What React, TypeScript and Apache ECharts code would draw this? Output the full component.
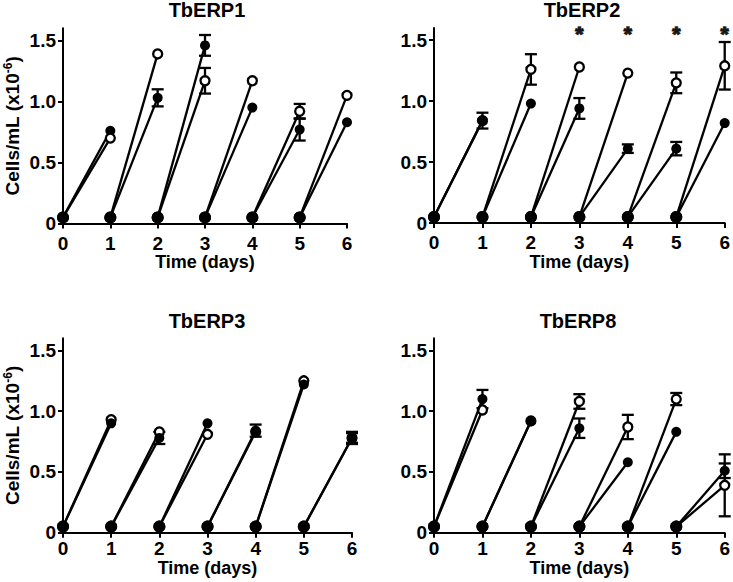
import React, { useEffect, useRef } from 'react';
import * as echarts from 'echarts';

const panelTitles = ['TbERP1', 'TbERP2', 'TbERP3', 'TbERP8'];
const yTickValues = [0, 0.5, 1, 1.5];
const yTickLabels = ['0', '0.5', '1.0', '1.5'];
const seedDensity = 0.05;
const harvestDays = [1, 2, 3, 4, 5, 6];

// TbERP1
const erp1Filled = [0.76, 1.03, 1.46, 0.95, 0.77, 0.83];
const erp1FilledSem = [0, 0.07, 0.085, 0, 0.09, 0];
const erp1Open = [0.70, 1.39, 1.17, 1.17, 0.92, 1.05];
const erp1OpenSem = [0, 0, 0.105, 0, 0.06, 0];
// TbERP2
const erp2Filled = [0.84, 0.98, 0.94, 0.61, 0.61, 0.82];
const erp2FilledSem = [0.065, 0, 0.085, 0.035, 0.055, 0];
const erp2Open = [0.84, 1.26, 1.28, 1.23, 1.15, 1.29];
const erp2OpenSem = [0, 0.125, 0, 0, 0.085, 0.195];
// TbERP3
const erp3Filled = [0.90, 0.78, 0.90, 0.84, 1.22, 0.78];
const erp3FilledSem = [0, 0.05, 0, 0.05, 0, 0.05];
const erp3Open = [0.93, 0.83, 0.81, 0.83, 1.25, 0.78];
const erp3OpenSem = [0, 0, 0, 0, 0, 0.04];
// TbERP8
const erp8Filled = [1.10, 0.92, 0.86, 0.58, 0.83, 0.51];
const erp8FilledSem = [0.075, 0, 0.08, 0, 0, 0.06];
const erp8Open = [1.01, 0.92, 1.08, 0.87, 1.10, 0.39];
const erp8OpenSem = [0, 0, 0.06, 0.1, 0.05, 0.255];

// significance marks (TbERP2)
const erp2SigDays = [3, 4, 5, 6];
const sigStarLevel = 1.56;

const FONT = '"Liberation Sans", Arial, Helvetica, sans-serif';

export default function App() {
  const ref = useRef<HTMLDivElement>(null);
  useEffect(() => {
    if (!ref.current) return;
    const chart = echarts.init(ref.current, undefined, { renderer: 'svg' });

    const panels = [
      { filled: erp1Filled, filledSem: erp1FilledSem, open: erp1Open, openSem: erp1OpenSem },
      { filled: erp2Filled, filledSem: erp2FilledSem, open: erp2Open, openSem: erp2OpenSem },
      { filled: erp3Filled, filledSem: erp3FilledSem, open: erp3Open, openSem: erp3OpenSem },
      { filled: erp8Filled, filledSem: erp8FilledSem, open: erp8Open, openSem: erp8OpenSem },
    ];
    const openOnTop = [true, false, false, false];
    const grids = [
      { left: 63, top: 28.3, width: 284, height: 195.2 },
      { left: 434, top: 28, width: 291, height: 195 },
      { left: 63, top: 338.3, width: 289, height: 194.4 },
      { left: 434, top: 338.3, width: 291, height: 194.4 },
    ];
    const titlePos = [
      [207, 10],
      [582, 10],
      [207, 321],
      [578, 321],
    ];

    const series: any[] = [];
    panels.forEach((pn, p) => {
      (['filled', 'open'] as const).forEach((g) => {
        const vals = g === 'filled' ? pn.filled : pn.open;
        const sems = g === 'filled' ? pn.filledSem : pn.openSem;
        const onTop = (g === 'open') === openOnTop[p];
        const z = onTop ? 5 : 4;
        harvestDays.forEach((d, i) => {
          series.push({
            type: 'line',
            xAxisIndex: p,
            yAxisIndex: p,
            z,
            silent: true,
            showSymbol: true,
            lineStyle: { color: '#000', width: 2.3 },
            itemStyle: { color: '#000' },
            data: [
              { value: [d - 1, seedDensity], symbol: 'circle', symbolSize: 12, itemStyle: { color: '#000' } },
              g === 'filled'
                ? { value: [d, vals[i]], symbol: 'circle', symbolSize: 10, itemStyle: { color: '#000' } }
                : {
                    value: [d, vals[i]],
                    symbol: 'circle',
                    symbolSize: 9,
                    itemStyle: { color: '#fff', borderColor: '#000', borderWidth: 2.3 },
                  },
            ],
          });
        });
        const errData = harvestDays
          .map((d, i) => [d, vals[i] - sems[i], vals[i] + sems[i], sems[i]])
          .filter((r) => r[3] > 0);
        series.push({
          type: 'custom',
          xAxisIndex: p,
          yAxisIndex: p,
          z: 2,
          silent: true,
          data: errData,
          encode: { x: 0, y: [1, 2] },
          renderItem: (params: any, api: any) => {
            const x = api.value(0);
            const top = api.coord([x, api.value(2)]);
            const bot = api.coord([x, api.value(1)]);
            const hw = 6;
            const st = { stroke: '#000', lineWidth: 2.3 };
            return {
              type: 'group',
              children: [
                { type: 'line', shape: { x1: top[0], y1: top[1], x2: bot[0], y2: bot[1] }, style: st },
                { type: 'line', shape: { x1: top[0] - hw, y1: top[1], x2: top[0] + hw, y2: top[1] }, style: st },
                { type: 'line', shape: { x1: bot[0] - hw, y1: bot[1], x2: bot[0] + hw, y2: bot[1] }, style: st },
              ],
            };
          },
        });
      });
    });

    series.push({
      type: 'scatter',
      xAxisIndex: 1,
      yAxisIndex: 1,
      z: 6,
      silent: true,
      symbolSize: 1,
      itemStyle: { color: 'rgba(0,0,0,0)' },
      data: erp2SigDays.map((d) => [d, sigStarLevel]),
      label: {
        show: true,
        formatter: '*',
        position: 'inside',
        offset: [0, 1],
        fontSize: 21,
        lineHeight: 14,
        fontWeight: 'bold',
        fontFamily: FONT,
        color: '#000',
        textBorderColor: '#000',
        textBorderWidth: 1.4,
      },
    });

    const axisLineStyle = { color: '#000', width: 2 };
    const option: any = {
      animation: false,
      backgroundColor: '#fff',
      grid: grids.map((g) => ({ ...g, containLabel: false })),
      graphic: panelTitles.map((t, p) => ({
        type: 'text',
        x: titlePos[p][0],
        y: titlePos[p][1],
        style: {
          text: t,
          align: 'center',
          verticalAlign: 'middle',
          fontSize: 20,
          fontWeight: 'bold',
          fontFamily: FONT,
          fill: '#000',
        },
      })),
      xAxis: grids.map((_, p) => ({
        type: 'value',
        gridIndex: p,
        min: 0,
        max: 6,
        interval: 1,
        axisLine: { show: true, lineStyle: axisLineStyle },
        axisTick: { show: true, length: 5, lineStyle: axisLineStyle },
        axisLabel: {
          color: '#000',
          fontSize: 19,
          fontWeight: 'bold',
          fontFamily: FONT,
          margin: p < 2 ? 10 : 6,
        },
        splitLine: { show: false },
        name: 'Time (days)',
        nameLocation: 'middle',
        nameGap: p < 2 ? 28 : 20,
        nameTextStyle: { color: '#000', fontSize: 18, fontWeight: 'bold', fontFamily: FONT },
      })),
      yAxis: grids.map((_, p) => ({
        type: 'value',
        gridIndex: p,
        min: 0,
        max: 1.6,
        axisLine: { show: true, lineStyle: axisLineStyle },
        axisTick: { show: true, length: 5, lineStyle: axisLineStyle, customValues: yTickValues },
        axisLabel: {
          customValues: yTickValues,
          color: '#000',
          fontSize: 19,
          fontWeight: 'bold',
          fontFamily: FONT,
          margin: 7,
          formatter: (v: number) => {
            const k = yTickValues.findIndex((t) => Math.abs(t - v) < 1e-6);
            return k >= 0 ? yTickLabels[k] : '';
          },
        },
        splitLine: { show: false },
        name: p % 2 === 0 ? 'Cells/mL (x10{sup|-6})' : '',
        nameLocation: 'middle',
        nameGap: 41,
        nameTextStyle: {
          color: '#000',
          fontSize: 19,
          fontWeight: 'bold',
          fontFamily: FONT,
          rich: {
            sup: {
              fontSize: 12,
              fontWeight: 'bold',
              fontFamily: FONT,
              color: '#000',
              verticalAlign: 'top',
              padding: [0, 0, 8, 0],
            },
          },
        },
      })),
      series,
    };
    chart.setOption(option);
    return () => chart.dispose();
  }, []);
  return (
    <div
      ref={ref}
      style={{ position: 'absolute', left: 0, top: 0, width: 733, height: 582, background: '#fff' }}
    />
  );
}
